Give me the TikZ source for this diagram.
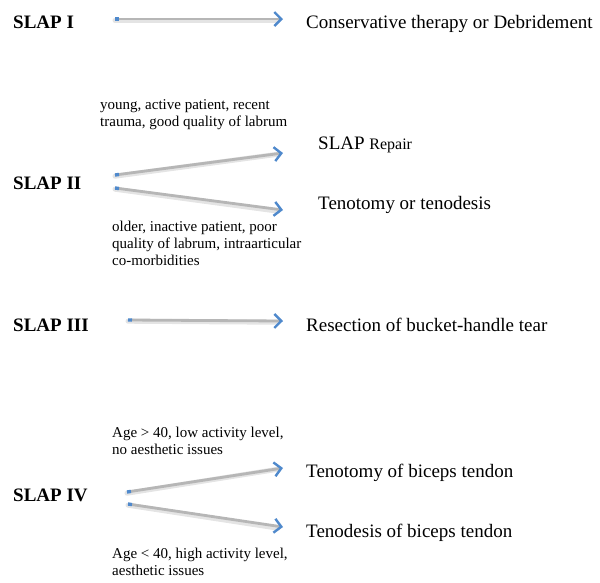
\documentclass[tikz,border=0pt]{standalone}
\usepackage{fontspec}
\setmainfont{Liberation Serif}
\usetikzlibrary{arrows.meta}
\definecolor{arrblue}{RGB}{79,137,204}
\definecolor{arrgray}{RGB}{182,182,182}
\definecolor{shadegray}{RGB}{228,228,228}
\tikzset{
  big/.style={font=\fontsize{19}{22}\selectfont, inner sep=0pt, anchor=base west},
  slap/.style={font=\fontsize{19}{22}\selectfont\bfseries, inner sep=0pt, anchor=base west},
  small/.style={font=\fontsize{15}{17}\selectfont, inner sep=0pt, anchor=base west, align=left},
  flowshade/.style={draw=shadegray, line width=5pt, line cap=round},
  flow/.style={draw=arrgray, line width=2.8pt,
    {Rectangle[length=4pt,width=3.4pt,color=arrblue]}-{Straight Barb[length=7pt,width=14pt,line width=2.4pt,color=arrblue]}},
}
\newcommand{\flowarrow}[2]{%
  \draw[flowshade] ([yshift=-1.2pt]#1) -- ([yshift=-1.2pt,xshift=-5pt]#2);
  \draw[flow] (#1) -- (#2);}
\begin{document}
\begin{tikzpicture}[x=1pt,y=-1pt]
\useasboundingbox (0,0) rectangle (600,582);

% SLAP I
\node[slap] (l1) at (13,28) {SLAP I};
\coordinate (s1) at (115,19);
\coordinate (e1) at (283,19);
\node[big] (t1) at (306,28) {Conservative therapy or Debridement};
\flowarrow{s1}{e1}

% SLAP II (base anchor of a multi-line node = last line)
\node[small] (c2a) at (100,126) {young, active patient, recent\\trauma, good quality of labrum};
\node[big] (t2a) at (318,149) {SLAP {\fontsize{16}{19}\selectfont Repair}};
\node[slap] (l2) at (13,189) {SLAP II};
\coordinate (s2a) at (115,175);
\coordinate (e2a) at (283,153);
\coordinate (s2b) at (115,188);
\coordinate (e2b) at (283,210);
\flowarrow{s2a}{e2a}
\flowarrow{s2b}{e2b}
\node[big] (t2b) at (318,209) {Tenotomy or tenodesis};
\node[small] (c2b) at (112,265) {older, inactive patient, poor\\quality of labrum, intraarticular\\co-morbidities};

% SLAP III
\node[slap] (l3) at (13,331) {SLAP III};
\coordinate (s3) at (128,320);
\coordinate (e3) at (283,321);
\flowarrow{s3}{e3}
\node[big] (t3) at (306,331) {Resection of bucket-handle tear};

% SLAP IV
\node[small] (c4a) at (112,454) {Age > 40, low activity level,\\no aesthetic issues};
\node[big] (t4a) at (306,477) {Tenotomy of biceps tendon};
\node[slap] (l4) at (13,501) {SLAP IV};
\coordinate (s4a) at (127,492);
\coordinate (e4a) at (283,468);
\coordinate (s4b) at (128,504);
\coordinate (e4b) at (283,527);
\flowarrow{s4a}{e4a}
\flowarrow{s4b}{e4b}
\node[big] (t4b) at (306,537) {Tenodesis of biceps tendon};
\node[small] (c4b) at (112,575) {Age < 40, high activity level,\\aesthetic issues};
\end{tikzpicture}
\end{document}
